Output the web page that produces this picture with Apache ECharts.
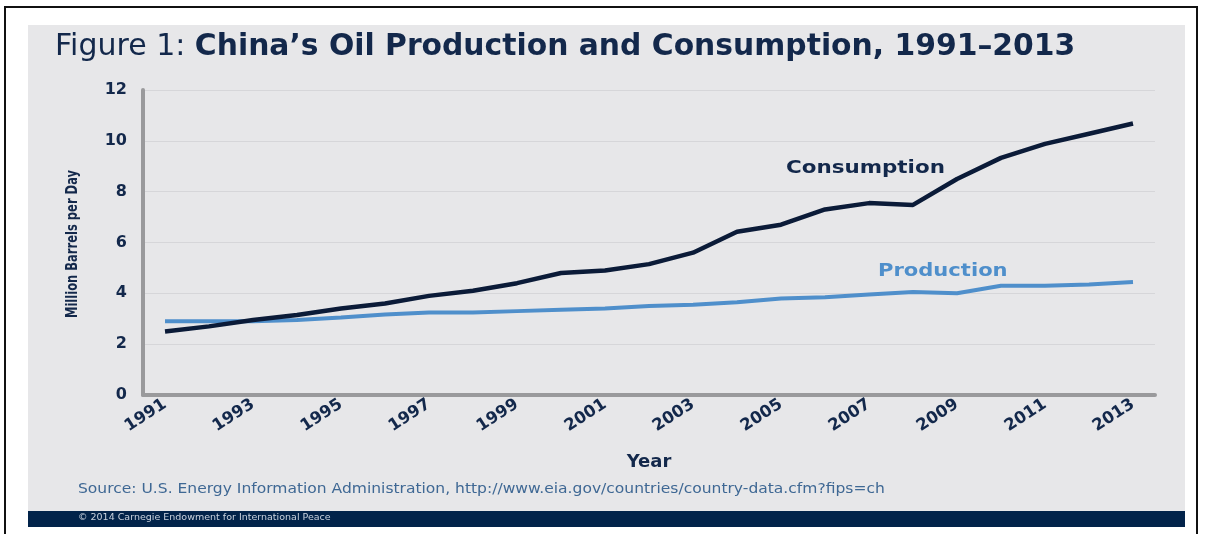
<!DOCTYPE html>
<html>
<head>
<meta charset="utf-8">
<script src="https://cdn.jsdelivr.net/npm/echarts@6/dist/echarts.min.js"></script>
<style>
  html, body { margin: 0; padding: 0; background: #ffffff; }
  #chart { width: 1205px; height: 534px; }
</style>
</head>
<body>
<div id="chart"></div>
<script>
// China's oil production and consumption, million barrels per day
const years = ['1991','1992','1993','1994','1995','1996','1997','1998','1999','2000','2001','2002',
               '2003','2004','2005','2006','2007','2008','2009','2010','2011','2012','2013'];
const consumption = [2.5, 2.7, 2.95, 3.15, 3.4, 3.6, 3.9, 4.1, 4.4, 4.8, 4.9, 5.15,
                     5.6, 6.42, 6.7, 7.3, 7.55, 7.48, 8.5, 9.33, 9.88, 10.28, 10.68];
const production = [2.9, 2.9, 2.9, 2.95, 3.05, 3.17, 3.25, 3.25, 3.3, 3.35, 3.4, 3.5,
                    3.55, 3.65, 3.8, 3.85, 3.95, 4.05, 4.0, 4.3, 4.3, 4.35, 4.45];
const yTicks = [0, 2, 4, 6, 8, 10, 12];

const NAVY = '#13284b';
const BLUE = '#4f8fcb';
const FONT = '"DejaVu Sans", Verdana, sans-serif';

const chart = echarts.init(document.getElementById('chart'), null, { renderer: 'canvas' });

chart.setOption({
  backgroundColor: '#ffffff',
  animation: false,
  graphic: [
    // outer frame
    { type: 'rect', z: -20, shape: { x: 5, y: 7, width: 1192, height: 540 },
      style: { fill: '#ffffff', stroke: '#111111', lineWidth: 2 } },
    // grey panel
    { type: 'rect', z: -19, shape: { x: 28, y: 25, width: 1157, height: 487 },
      style: { fill: '#e7e7e9' } },
    // footer band
    { type: 'rect', z: -18, shape: { x: 28, y: 511, width: 1157, height: 16 },
      style: { fill: '#02234a' } },
    { type: 'text', z: 10, left: 78, top: 513,
      style: { text: '© 2014 Carnegie Endowment for International Peace',
               fill: '#c9d2de', font: '9.5px ' + FONT } },
    // title
    { type: 'text', z: 10, left: 55, top: 32,
      style: {
        text: '{a|Figure 1: }{b|China\u2019s Oil Production and Consumption, 1991\u20132013}',
        rich: {
          a: { fill: NAVY, font: '400 30px ' + FONT },
          b: { fill: NAVY, font: '700 29.8px ' + FONT }
        }
      } },
    // series annotations
    { type: 'text', z: 10, x: 786, y: 168, scaleX: 1.19,
      style: { text: 'Consumption', fill: NAVY, font: '700 18px ' + FONT,
               align: 'left', verticalAlign: 'middle' } },
    { type: 'text', z: 10, x: 878, y: 271, scaleX: 1.17,
      style: { text: 'Production', fill: BLUE, font: '700 18px ' + FONT,
               align: 'left', verticalAlign: 'middle' } },
    // y-axis title, set in a condensed face
    { type: 'text', z: 10, x: 73, y: 244, rotation: Math.PI / 2, scaleX: 0.72,
      style: { text: 'Million Barrels per Day', fill: NAVY, font: '700 16px ' + FONT,
               align: 'center', verticalAlign: 'middle' } },
    // source line
    { type: 'text', z: 10, x: 78, y: 489, scaleX: 1.15,
      style: { text: 'Source: U.S. Energy Information Administration, http://www.eia.gov/countries/country-data.cfm?fips=ch',
               fill: '#3f6894', font: '400 13.5px ' + FONT, align: 'left', verticalAlign: 'middle' } }
  ],
  grid: { left: 143, right: 50, top: 90, bottom: 139, containLabel: false },
  xAxis: {
    type: 'category',
    data: years,
    boundaryGap: true,
    name: 'Year',
    nameLocation: 'middle',
    nameGap: 58,
    nameTextStyle: { color: NAVY, fontFamily: FONT, fontWeight: 'bold', fontSize: 18 },
    axisLine: { show: true, lineStyle: { color: '#9a9a9c', width: 4 } },
    axisTick: { show: false },
    axisLabel: {
      interval: 1,
      rotate: 33,
      margin: 8,
      color: NAVY,
      fontFamily: FONT,
      fontWeight: 'bold',
      fontSize: 16.5
    },
    splitLine: { show: false }
  },
  yAxis: {
    type: 'value',
    min: yTicks[0],
    max: yTicks[yTicks.length - 1],
    interval: 2,
    axisLine: { show: true, lineStyle: { color: '#9a9a9c', width: 4 } },
    axisTick: { show: false },
    axisLabel: {
      margin: 16,
      color: NAVY,
      fontFamily: FONT,
      fontWeight: 'bold',
      fontSize: 16
    },
    splitLine: { show: true, lineStyle: { color: '#d6d6d9', width: 1 } }
  },
  series: [
    {
      name: 'Production',
      type: 'line',
      data: production,
      symbol: 'none',
      lineStyle: { color: BLUE, width: 4 },
      z: 3
    },
    {
      name: 'Consumption',
      type: 'line',
      data: consumption,
      symbol: 'none',
      lineStyle: { color: '#0b1b38', width: 4.5 },
      z: 4
    }
  ]
});
</script>
</body>
</html>
